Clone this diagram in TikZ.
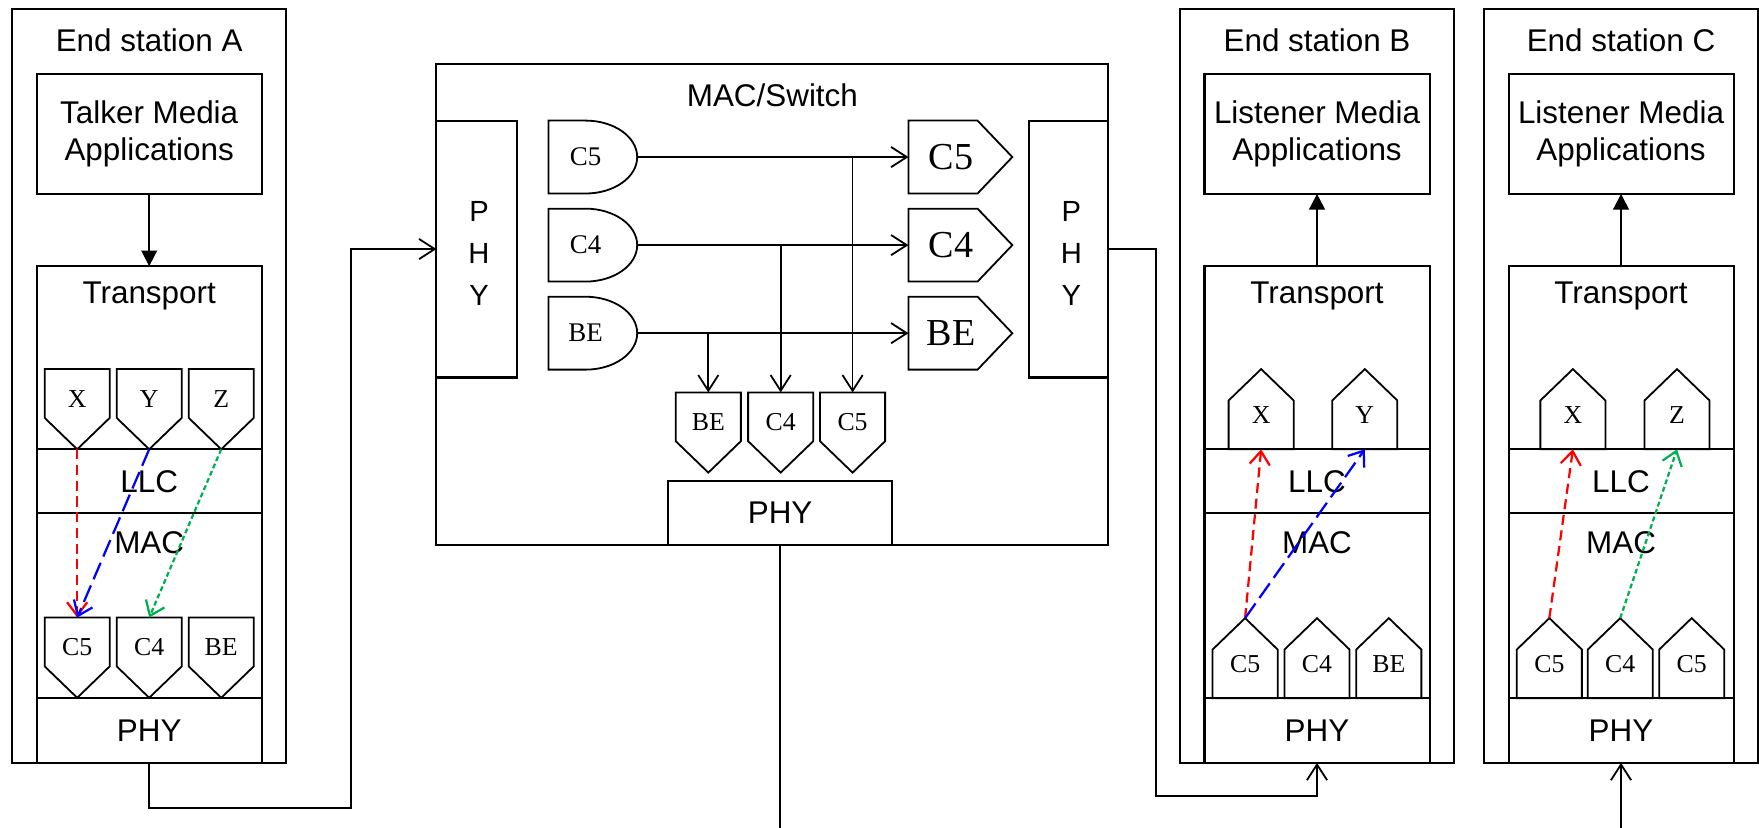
\documentclass[tikz,border=0pt]{standalone}
\usepackage{fontspec}
\setmainfont{Liberation Serif}
\setsansfont{Liberation Sans}
\usetikzlibrary{arrows.meta}
\definecolor{pktred}{RGB}{255,0,0}
\definecolor{pktblue}{RGB}{0,0,255}
\definecolor{pktgreen}{RGB}{0,176,80}

\begin{document}
\begin{tikzpicture}[x=0.5pt, y=-0.5pt,
  box/.style={draw, line width=0.9pt, inner sep=0pt, outer sep=0pt},
  txt/.style={font=\sffamily\fontsize{14}{16.5}\selectfont, align=center, inner sep=0pt},
  vtxt/.style={font=\sffamily\fontsize{13}{18.6}\selectfont, align=center, inner sep=0pt},
  qtxt/.style={font=\rmfamily\fontsize{11.5}{13}\selectfont, inner sep=0pt},
  wire/.style={line width=0.8pt},
  barb/.style={-{Straight Barb[length=7pt, width=9pt]}},
  tri/.style={-{Triangle[length=7pt, width=7pt]}},
  flow/.style={line width=1pt, -{Straight Barb[length=6pt, width=9pt]}},
  redflow/.style={flow, pktred, dash pattern=on 4.5pt off 2.5pt},
  blueflow/.style={flow, pktblue, dash pattern=on 8pt off 3pt},
  greenflow/.style={flow, pktgreen, dash pattern=on 2.2pt off 1.3pt},
  pics/pentdown/.style={code={
    \draw[line width=0.8pt] (-29,0) -- (29,0) -- (29,43.5) -- (0,71.5) -- (-29,43.5) -- cycle;
    \node[qtxt] (-lbl) at (0,26.5) {#1};
    \coordinate (-top) at (0,0);
    \coordinate (-tip) at (0,71.5);
  }},
  pics/pentup/.style={code={
    \draw[line width=0.8pt] (-29,0) -- (29,0) -- (29,-43.5) -- (0,-71.5) -- (-29,-43.5) -- cycle;
    \node[qtxt] (-lbl) at (0,-30.6) {#1};
    \coordinate (-bot) at (0,0);
    \coordinate (-tip) at (0,-71.5);
  }},
  pics/pentright/.style={code={
    \draw[line width=0.8pt] (0,-32.5) -- (61.6,-32.5) -- (92.6,0) -- (61.6,32.5) -- (0,32.5) -- cycle;
    \node[qtxt, font=\rmfamily\fontsize{17}{19}\selectfont] (-lbl) at (38,0) {#1};
    \coordinate (-in) at (0,0);
  }},
  pics/dqueue/.style={code={
    \draw[line width=0.8pt] (-33,-32.5) -- (0,-32.5) arc[start angle=-90, end angle=90, x radius=46, y radius=32.5] -- (-33,32.5) -- cycle;
    \node[qtxt, font=\rmfamily\fontsize{12}{14}\selectfont] (-lbl) at (0,0) {#1};
    \coordinate (-out) at (46,0);
  }}]

  \useasboundingbox (0,0) rectangle (1568,738);

  % -- End station A --
  \node[box, minimum width=122pt, minimum height=336pt] (aOut) at (133,344) {};
  \node[txt] (aTitle) at (133,36.3) {End station A};
  \node[box, txt, minimum width=100.3pt, minimum height=53.45pt] (aApp) at (133,119.35) {Talker Media\\Applications};
  \node[box, minimum width=100.3pt, minimum height=221.35pt] (aStack) at (133,458.65) {};
  \draw[line width=0.9pt] (aStack.west |- 0,400.5) -- (aStack.east |- 0,400.5)
    (aStack.west |- 0,457) -- (aStack.east |- 0,457)
    (aStack.west |- 0,622.5) -- (aStack.east |- 0,622.5);
  \node[txt] (aTr) at (133,263.7) {Transport};
  \node[txt] (aLlc) at (133,429) {LLC};
  \node[txt] (aMac) at (133,483.6) {MAC};
  \node[txt] (aPhy) at (133,651) {PHY};
  \draw[wire, tri] (aApp.south) -- (aStack.north);

  \pic (aX) at (68.8,329) {pentdown=X};
  \pic (aY) at (133,329) {pentdown=Y};
  \pic (aZ) at (197.2,329) {pentdown=Z};
  \pic (aC5) at (68.8,550.5) {pentdown=C5};
  \pic (aC4) at (133,550.5) {pentdown=C4};
  \pic (aBE) at (197.2,550.5) {pentdown=BE};

  \draw[redflow] (aX-tip) -- (aC5-top);
  \draw[blueflow] (aY-tip) -- (aC5-top);
  \draw[greenflow] (aZ-tip) -- (aC4-top);

  % -- MAC/Switch --
  \node[box, minimum width=299.5pt, minimum height=214.5pt] (sw) at (688.5,271.5) {};
  \node[txt] (swTitle) at (688.5,84.6) {MAC/Switch};
  \node[box, minimum width=36pt, minimum height=114.5pt] (sPhyL) at (425,222) {};
  \node[vtxt] (sPhyLt) at (427,225.8) {P\\H\\Y};
  \node[box, minimum width=35.5pt, minimum height=114.5pt] (sPhyR) at (952.5,222) {};
  \node[vtxt] (sPhyRt) at (955,225.8) {P\\H\\Y};
  \node[box, txt, minimum width=99.6pt, minimum height=28.55pt] (sPhyB) at (695.4,457.45) {PHY};

  \pic (sqC5) at (522,140) {dqueue=C5};
  \pic (sqC4) at (522,218.5) {dqueue=C4};
  \pic (sqBE) at (522,297) {dqueue=BE};
  \pic (soC5) at (809.8,140) {pentright=C5};
  \pic (soC4) at (809.8,218.5) {pentright=C4};
  \pic (soBE) at (809.8,297) {pentright=BE};
  \pic (sbBE) at (631.4,349.8) {pentdown=BE};
  \pic (sbC4) at (695.9,349.8) {pentdown=C4};
  \pic (sbC5) at (760,349.8) {pentdown=C5};

  \draw[wire, barb] (sqC5-out) -- (soC5-in);
  \draw[wire, barb] (sqC4-out) -- (soC4-in);
  \draw[wire, barb] (sqBE-out) -- (soBE-in);
  \draw[wire, barb] (sqC5-out -| sbC5-top) -- (sbC5-top);
  \draw[wire, barb] (sqC4-out -| sbC4-top) -- (sbC4-top);
  \draw[wire, barb] (sqBE-out -| sbBE-top) -- (sbBE-top);

  % -- End station B --
  \node[box, minimum width=122pt, minimum height=336pt] (bOut) at (1174,344) {};
  \node[txt] (bTitle) at (1174,36.3) {End station B};
  \node[box, txt, minimum width=100.3pt, minimum height=53.45pt] (bApp) at (1174,119.35) {Listener Media\\Applications};
  \node[box, minimum width=100.3pt, minimum height=221.35pt] (bStack) at (1174,458.65) {};
  \draw[line width=0.9pt] (bStack.west |- 0,400.5) -- (bStack.east |- 0,400.5)
    (bStack.west |- 0,457) -- (bStack.east |- 0,457)
    (bStack.west |- 0,622.5) -- (bStack.east |- 0,622.5);
  \node[txt] (bTr) at (1174,263.7) {Transport};
  \node[txt] (bLlc) at (1174,429) {LLC};
  \node[txt] (bMac) at (1174,483.6) {MAC};
  \node[txt] (bPhy) at (1174,651) {PHY};
  \draw[wire, tri] (bStack.north) -- (bApp.south);

  \pic (bX) at (1124.2,400.5) {pentup=X};
  \pic (bY) at (1216.6,400.5) {pentup=Y};
  \pic (bC5) at (1109.9,622.5) {pentup=C5};
  \pic (bC4) at (1174,622.5) {pentup=C4};
  \pic (bBE) at (1238,622.5) {pentup=BE};

  \draw[redflow] (bC5-tip) -- (bX-bot);
  \draw[blueflow] (bC5-tip) -- (bY-bot);

  % -- End station C --
  \node[box, minimum width=122pt, minimum height=336pt] (cOut) at (1445,344) {};
  \node[txt] (cTitle) at (1445,36.3) {End station C};
  \node[box, txt, minimum width=100.3pt, minimum height=53.45pt] (cApp) at (1445,119.35) {Listener Media\\Applications};
  \node[box, minimum width=100.3pt, minimum height=221.35pt] (cStack) at (1445,458.65) {};
  \draw[line width=0.9pt] (cStack.west |- 0,400.5) -- (cStack.east |- 0,400.5)
    (cStack.west |- 0,457) -- (cStack.east |- 0,457)
    (cStack.west |- 0,622.5) -- (cStack.east |- 0,622.5);
  \node[txt] (cTr) at (1445,263.7) {Transport};
  \node[txt] (cLlc) at (1445,429) {LLC};
  \node[txt] (cMac) at (1445,483.6) {MAC};
  \node[txt] (cPhy) at (1445,651) {PHY};
  \draw[wire, tri] (cStack.north) -- (cApp.south);

  \pic (cX) at (1402.1,400.5) {pentup=X};
  \pic (cZ) at (1494.9,400.5) {pentup=Z};
  \pic (cC5) at (1381.1,622.5) {pentup=C5};
  \pic (cC4) at (1444.3,622.5) {pentup=C4};
  \pic (cC5b) at (1508,622.5) {pentup=C5};

  \draw[redflow] (cC5-tip) -- (cX-bot);
  \draw[greenflow] (cC4-tip) -- (cZ-bot);

  % -- Links --
  \coordinate (swOut) at (695.4,738);
  \coordinate (cIn) at (1445,738);
  \draw[wire, barb] (aStack.south) -- ++(0,40) -| ([xshift=-38pt]sPhyL.west) -- (sPhyL.west);
  \draw[wire, barb] (sPhyR.east) -- ++(42.3,0) |- ([yshift=-14.8pt]bStack.south) -- (bStack.south);
  \draw[wire] (sPhyB.south) -- (swOut);
  \draw[wire, barb] (cIn) -- (cStack.south);

\end{tikzpicture}
\end{document}
